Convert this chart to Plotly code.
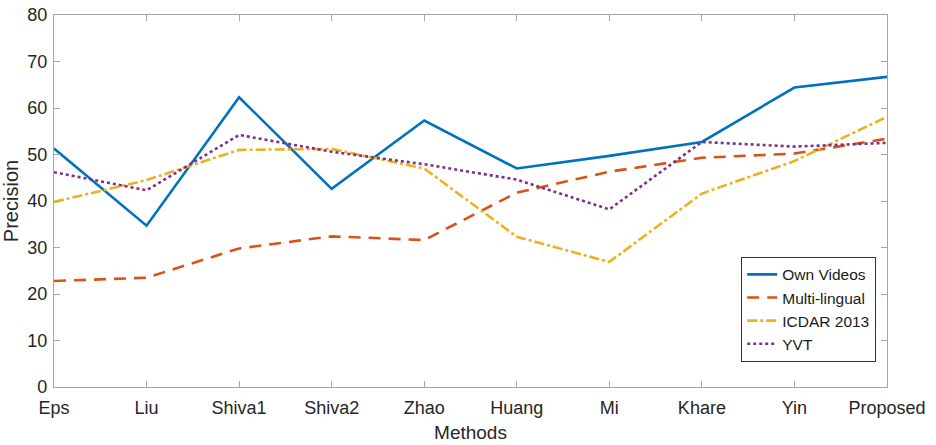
import plotly.graph_objects as go

methods = ["Eps", "Liu", "Shiva1", "Shiva2", "Zhao", "Huang", "Mi", "Khare", "Yin", "Proposed"]
own_videos = [51.3, 34.7, 62.3, 42.6, 57.3, 47.0, 49.7, 52.7, 64.4, 66.7]
multi_lingual = [22.8, 23.5, 29.8, 32.4, 31.6, 41.8, 46.3, 49.3, 50.2, 53.4]
icdar_2013 = [39.8, 44.5, 51.0, 51.2, 47.0, 32.3, 26.9, 41.6, 48.6, 58.1]
yvt = [46.2, 42.3, 54.2, 50.6, 47.9, 44.6, 38.2, 52.7, 51.7, 52.5]
y_ticks = [0, 10, 20, 30, 40, 50, 60, 70, 80]

series = [
    ("Own Videos", own_videos, "#0072BD", "solid"),
    ("Multi-lingual", multi_lingual, "#D95319", "12px,8px"),
    ("ICDAR 2013", icdar_2013, "#EDB120", "10px,3px,3px,3px"),
    ("YVT", yvt, "#7E2F8E", "dot"),
]

fig = go.Figure()
for name, vals, color, dash in series:
    fig.add_trace(go.Scatter(
        x=methods, y=vals, mode="lines", name=name,
        line=dict(color=color, width=2.6, dash=dash),
    ))

axis_common = dict(
    showgrid=False, zeroline=False, showline=True, linecolor="#a6a6a6",
    linewidth=1.2, mirror="ticks", ticks="inside", ticklen=6,
    tickcolor="#a6a6a6", tickfont=dict(size=18, color="#262626"),
    automargin=False,
)

fig.update_layout(
    width=936, height=445,
    margin=dict(l=54, r=49, t=15, b=58),
    paper_bgcolor="white", plot_bgcolor="white",
    font=dict(family="Liberation Sans, Arial, sans-serif", color="#262626"),
    xaxis=dict(
        type="category", range=[0, len(methods) - 1],
        ticklabelstandoff=4,
        title=dict(text="Methods", font=dict(size=19), standoff=8),
        **axis_common,
    ),
    yaxis=dict(
        range=[0, 80], tickvals=y_ticks, ticklabelstandoff=2,
        title=dict(text="Precision", font=dict(size=20), standoff=3),
        **axis_common,
    ),
    legend=dict(
        x=0.825, y=0.35, xanchor="left", yanchor="top",
        bgcolor="white", bordercolor="#333333", borderwidth=1,
        font=dict(size=15.5, color="#1a1a1a"), tracegroupgap=0,
    ),
)

fig.write_html("out.html")
